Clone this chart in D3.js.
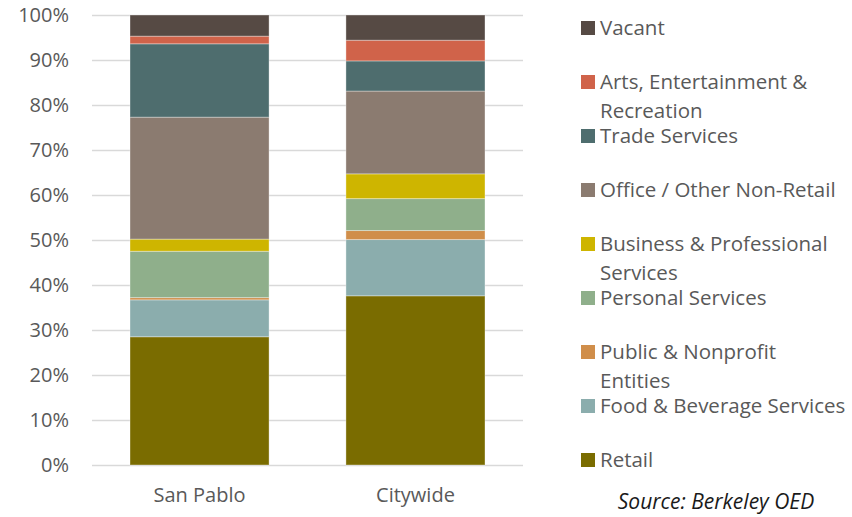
<!DOCTYPE html>
<html>
<head>
<meta charset="utf-8">
<script src="https://cdn.jsdelivr.net/npm/d3@7"></script>
<style>
  body { margin: 0; background: #fff; }
  text { font-family: "Open Sans", sans-serif; fill: #595959; }
</style>
</head>
<body>
<script>
// data (percent of ground-floor space)
var areas = ["San Pablo", "Citywide"];
var uses = ["Retail", "Food & Beverage Services", "Public & Nonprofit Entities",
            "Personal Services", "Business & Professional Services",
            "Office / Other Non-Retail", "Trade Services",
            "Arts, Entertainment & Recreation", "Vacant"];
var sanPablo = [28.5, 8.2, 0.5, 10.3, 2.7, 27.1, 16.3, 1.7, 4.7];
var citywide = [37.6, 12.5, 2.0, 7.1, 5.5, 18.4, 6.7, 4.6, 5.6];
var legendLines = [["Vacant"], ["Arts, Entertainment &", "Recreation"], ["Trade Services"],
                   ["Office / Other Non-Retail"], ["Business & Professional", "Services"],
                   ["Personal Services"], ["Public & Nonprofit", "Entities"],
                   ["Food & Beverage Services"], ["Retail"]];
var yTicks = [0, 10, 20, 30, 40, 50, 60, 70, 80, 90, 100];
var colors = ["#7a6c00", "#8badad", "#d08e4a", "#8faf8b", "#ceb500",
              "#8b7b70", "#4e6d6e", "#d0634a", "#564a44"];

var width = 852, height = 517,
    margin = {top: 15, right: 329, bottom: 52, left: 92};

var svg = d3.select("body").append("svg")
    .attr("width", width)
    .attr("height", height);

var rows = areas.map(function(a, i) {
    var r = {area: a};
    var vals = i == 0 ? sanPablo : citywide;
    uses.forEach(function(u, j) { r[u] = vals[j]; });
    return r;
});

var stack = d3.stack().keys(uses)(rows);

var x = d3.scaleBand()
    .domain(areas)
    .range([margin.left, width - margin.right])
    .paddingInner(0.356)
    .paddingOuter(0.176);

var y = d3.scaleLinear()
    .domain([0, 100])
    .range([height - margin.bottom, margin.top]);

var color = d3.scaleOrdinal().domain(uses).range(colors);

// grid + y labels
var yAxis = svg.append("g")
    .attr("transform", "translate(" + margin.left + ",0)")
    .call(d3.axisLeft(y).tickValues(yTicks)
        .tickSize(-(width - margin.right - margin.left))
        .tickFormat(function(d) { return d + "%"; }));
yAxis.select(".domain").remove();
yAxis.selectAll(".tick line").attr("stroke", "#d9d9d9").attr("stroke-width", 1.5);
yAxis.selectAll(".tick text")
    .attr("x", -23)
    .style("font-size", "20px")
    .style("font-family", "'Open Sans', sans-serif")
    .attr("fill", "#595959");

// bars
svg.append("g").selectAll("g")
    .data(stack)
    .join("g")
    .attr("fill", function(d) { return color(d.key); })
    .selectAll("rect")
    .data(function(d) { return d; })
    .join("rect")
    .attr("x", function(d) { return x(d.data.area); })
    .attr("width", x.bandwidth())
    .attr("y", function(d) { return y(d[1]); })
    .attr("height", function(d) { return y(d[0]) - y(d[1]); })
    .attr("stroke", "#ffffff")
    .attr("stroke-opacity", 0.35)
    .attr("stroke-width", 1);

// x labels
var xAxis = svg.append("g")
    .attr("transform", "translate(0," + (height - margin.bottom) + ")")
    .call(d3.axisBottom(x).tickSize(0));
xAxis.select(".domain").remove();
xAxis.selectAll(".tick text")
    .attr("dy", "1.7em")
    .style("font-size", "20px")
    .style("font-family", "'Open Sans', sans-serif")
    .attr("fill", "#595959");

// legend
var legendColors = colors.slice().reverse();
var leg = svg.append("g").selectAll("g")
    .data(legendLines)
    .join("g")
    .attr("transform", function(d, i) { return "translate(581," + (28 + i * 54) + ")"; });

leg.append("rect")
    .attr("y", -7)
    .attr("width", 14)
    .attr("height", 14)
    .attr("fill", function(d, i) { return legendColors[i]; });

leg.append("text")
    .style("font-size", "20.5px")
    .selectAll("tspan")
    .data(function(d) { return d; })
    .join("tspan")
    .attr("x", 19)
    .attr("y", function(d, i) { return 7 + i * 29; })
    .text(function(d) { return d; });

svg.append("text")
    .attr("x", 716)
    .attr("y", 509)
    .attr("text-anchor", "middle")
    .style("font-size", "21px")
    .style("font-style", "italic")
    .style("fill", "#1a1a1a")
    .text("Source: Berkeley OED");
</script>
</body>
</html>
